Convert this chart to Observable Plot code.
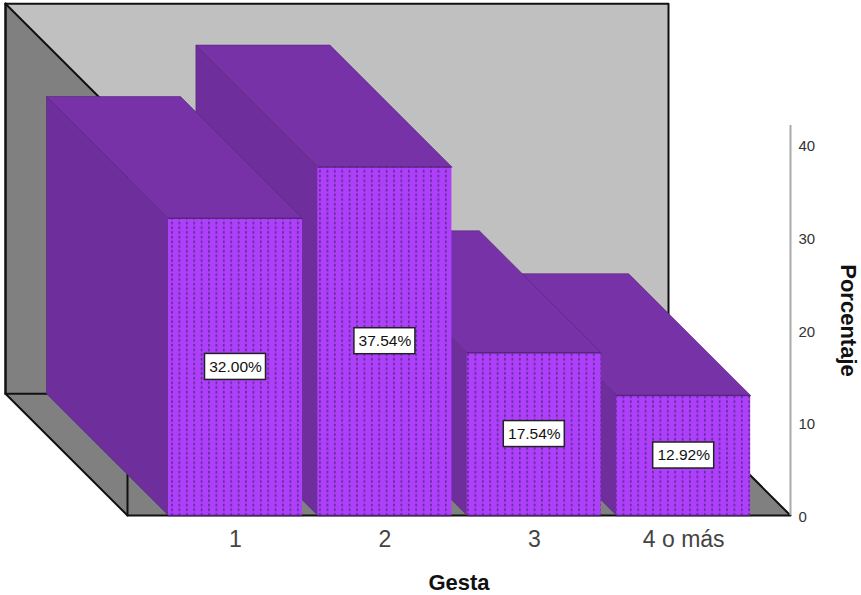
<!DOCTYPE html>
<html>
<head>
<meta charset="utf-8">
<style>
  html, body { margin: 0; padding: 0; background: #fff; }
  svg { display: block; }
</style>
<script src="https://cdn.jsdelivr.net/npm/d3@7"></script>
<script src="https://cdn.jsdelivr.net/npm/@observablehq/plot@0.6"></script>
</head>
<body>
<div id="chart"></div>
<script>
// Distribution of gesta, percentage per category
const categories = ["1", "2", "3", "4 o más"];
const percentages = [32.00, 37.54, 17.54, 12.92];
const yTicks = [0, 10, 20, 30, 40];
const xTitle = "Gesta";
const yTitle = "Porcentaje";

// Extent of the box in chart units, and the oblique shift of one full depth step
const uMin = -0.723, uMax = 3.715, vMax = 42;
const depthU = 0.8166, depthV = 13.12;
const barHalf = 0.4485;

const at = (u, v, d = 0) => ({u: u - d * depthU, v: v + d * depthV});

const face = (points, options) =>
  Plot.line(points, {x: "u", y: "v", curve: "linear-closed", ...options});
const edge = (points, options) =>
  Plot.line(points, {x: "u", y: "v", stroke: "#111", strokeWidth: 2, ...options});

const backWall = [at(uMin, 0, 1), at(uMax, 0, 1), at(uMax, vMax, 1), at(uMin, vMax, 1)];
const sideWall = [at(uMin, 0, 0), at(uMin, 0, 1), at(uMin, vMax, 1), at(uMin, vMax, 0)];
const floor = [at(uMin, 0, 0), at(uMax, 0, 0), at(uMax, 0, 1), at(uMin, 0, 1)];

const wallMarks = [
  face(backWall, {fill: "#c0c0c0"}),
  face(sideWall, {fill: "#808080"}),
  face(floor, {fill: "#808080"}),
  edge([at(uMin, 0, 1), at(uMin, vMax, 1)], {strokeWidth: 2.5}),
  edge([at(uMin, vMax, 1), at(uMax, vMax, 1), at(uMax, 0, 1)]),
  edge([at(uMin, vMax, 1), at(uMin, vMax, 0), at(uMin, 0, 0)]),
  edge([at(uMin, 0, 1), at(uMin, 0, 0), at(uMax, 0, 0), at(uMax, 0, 1), at(uMin, 0, 1)])
];

// Bars are painted right to left so each one overlaps its right-hand neighbour
const barMarks = percentages.map((value, i) => {
  const l = i - barHalf, r = i + barHalf;
  const edgeStyle = {stroke: "#55267c", strokeWidth: 1, strokeOpacity: 0.6};
  const row = [{l, r, value}];
  return [
    face([at(l, 0, 0), at(l, 0, 1), at(l, value, 1), at(l, value, 0)], {fill: "#6e2f9c", ...edgeStyle}),
    face([at(l, value, 0), at(l, value, 1), at(r, value, 1), at(r, value, 0)], {fill: "#7732a8", ...edgeStyle}),
    Plot.rect(row, {x1: "l", x2: "r", y1: 0, y2: "value", fill: "url(#gesta-dots)"}),
    Plot.ruleY(row, {x1: "l", x2: "r", y: "value", stroke: "#55267c", strokeWidth: 1.5}),
    Plot.ruleY(row, {x1: "l", x2: "r", y: 0, stroke: "#4a2470", strokeWidth: 1.5})
  ];
}).reverse();

const labelRows = percentages.map((value, i) => ({i, mid: value / 2, text: value.toFixed(2) + "%"}));

const chart = Plot.plot({
  width: 861,
  height: 595,
  marginLeft: 127,
  marginRight: 71,
  marginTop: 125,
  marginBottom: 80,
  style: {fontFamily: "'Liberation Sans', Arial, sans-serif", background: "#fff"},
  x: {domain: [uMin, uMax], label: null},
  y: {domain: [0, vMax], label: null},
  marks: [
    ...wallMarks,
    ...barMarks,
    Plot.rect(labelRows, {
      x1: "i", x2: "i", y1: "mid", y2: "mid",
      insetLeft: -30.5, insetRight: -30.5, insetTop: -13, insetBottom: -13,
      fill: "#fff", stroke: "#222", strokeWidth: 1.5
    }),
    Plot.text(labelRows, {
      x: "i", y: "mid", text: "text", fontSize: 15.5, fill: "#111"
    }),
    Plot.ruleX([uMax], {y1: 0, y2: vMax, stroke: "#aaa", strokeWidth: 2}),
    Plot.axisX({
      ticks: categories.map((_, i) => i),
      tickFormat: i => categories[i],
      tickSize: 0, tickPadding: 15, fontSize: 23, fill: "#444", label: null
    }),
    Plot.axisY({
      anchor: "right", ticks: yTicks, tickFormat: d => String(d),
      tickSize: 0, tickPadding: 8, dy: 2, fontSize: 15, fill: "#333", label: null
    }),
    Plot.text([xTitle], {
      frameAnchor: "bottom", dy: 67, lineAnchor: "middle", text: d => d,
      fontSize: 22, fontWeight: "bold", fill: "#111"
    }),
    Plot.text([yTitle], {
      frameAnchor: "right", dx: 58, textAnchor: "middle", text: d => d, rotate: 90,
      fontSize: 22, fontWeight: "bold", fill: "#111"
    })
  ]
});

// Dotted fill used on the front of the bars
const pattern = d3.select(chart).insert("defs", ":first-child")
  .append("pattern")
  .attr("id", "gesta-dots")
  .attr("patternUnits", "userSpaceOnUse")
  .attr("width", 7.4)
  .attr("height", 4.7);
pattern.append("rect").attr("width", 7.4).attr("height", 4.7).attr("fill", "#ae40fc");
pattern.append("rect").attr("x", 0.9).attr("y", 0.8).attr("width", 1.7).attr("height", 2.6).attr("fill", "#662b96");

document.getElementById("chart").append(chart);
</script>
</body>
</html>
